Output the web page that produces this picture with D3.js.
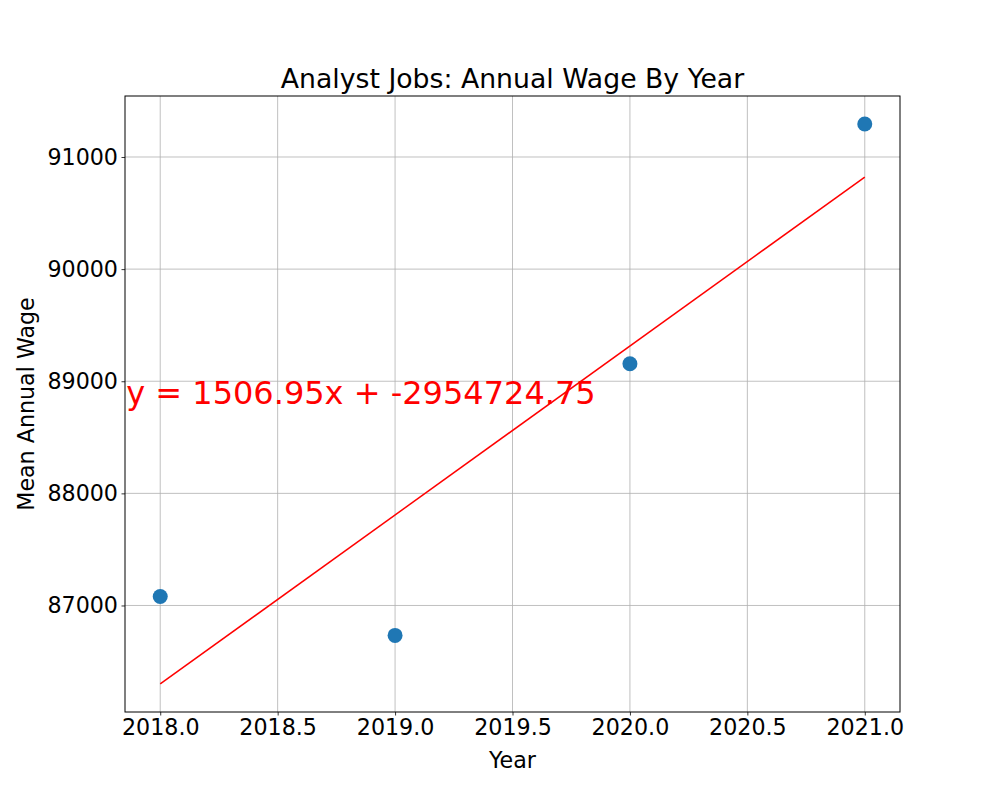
<!DOCTYPE html>
<html>
<head>
<meta charset="utf-8">
<script src="https://cdn.jsdelivr.net/npm/d3@7"></script>
<style>
  body { margin: 0; background: #fff; }
  text { font-family: "DejaVu Sans", sans-serif; }
</style>
</head>
<body>
<div id="chart"></div>
<script>
// data
const years = [2018, 2019, 2020, 2021]
const wages = [87080, 86733, 89156, 91294]
const slope = 1506.95
const intercept = -2954724.75
const xTicks = [2018.0, 2018.5, 2019.0, 2019.5, 2020.0, 2020.5, 2021.0]
const yTicks = [87000, 88000, 89000, 90000, 91000]

const totalWidth = 1000, totalHeight = 800
const margin = { top: 96, left: 125, bottom: 88, right: 100 }
const width = totalWidth - margin.left - margin.right
const height = totalHeight - margin.top - margin.bottom

const svg = d3.select("div#chart").append("svg").attr("width", totalWidth).attr("height", totalHeight)
const g = svg.append("g").attr("transform", `translate(${margin.left}, ${margin.top})`)

const x = d3.scaleLinear().domain([2017.85, 2021.15]).range([0, width])
const y = d3.scaleLinear().domain([86050, 91544]).range([height, 0])

// grid
g.append("g").selectAll("line").data(xTicks).join("line")
    .attr("x1", d => x(d)).attr("x2", d => x(d)).attr("y1", 0).attr("y2", height)
    .attr("stroke", "#b0b0b0").attr("stroke-width", 0.8)
g.append("g").selectAll("line").data(yTicks).join("line")
    .attr("y1", d => y(d)).attr("y2", d => y(d)).attr("x1", 0).attr("x2", width)
    .attr("stroke", "#b0b0b0").attr("stroke-width", 0.8)

// axes
const xAxis = d3.axisBottom(x).tickValues(xTicks).tickFormat(d3.format(".1f")).tickSize(3.5).tickPadding(3.5)
const yAxis = d3.axisLeft(y).tickValues(yTicks).tickFormat(d => d).tickSize(3.5).tickPadding(3.5)
const xg = g.append("g").attr("transform", `translate(0, ${height})`).call(xAxis)
const yg = g.append("g").call(yAxis)
for (const ax of [xg, yg]) {
    ax.select(".domain").remove()
    ax.selectAll("text").attr("font-size", 22.2).attr("fill", "#000").style("font-family", "DejaVu Sans")
    ax.selectAll("line").attr("stroke", "#000").attr("stroke-width", 0.8)
}
xg.selectAll("text").attr("dy", "0.71em")

// points
g.append("g").selectAll("circle").data(years).join("circle")
    .attr("cx", d => x(d))
    .attr("cy", (d, i) => y(wages[i]))
    .attr("r", 7.5)
    .attr("fill", "#1f77b4")

// regression line
const ends = [d3.min(years), d3.max(years)]
g.append("line")
    .attr("x1", x(ends[0])).attr("y1", y(slope * ends[0] + intercept))
    .attr("x2", x(ends[1])).attr("y2", y(slope * ends[1] + intercept))
    .attr("stroke", "red").attr("stroke-width", 1.5)

// frame
g.append("rect").attr("width", width).attr("height", height)
    .attr("fill", "none").attr("stroke", "#000").attr("stroke-width", 1)

// equation
g.append("text")
    .attr("x", x(2017.855)).attr("y", y(88800))
    .attr("fill", "red").attr("font-size", 32)
    .text(`y = ${slope}x + ${intercept}`)

// title and labels
svg.append("text").attr("x", margin.left + width / 2).attr("y", 88)
    .attr("text-anchor", "middle").attr("font-size", 26.7)
    .text("Analyst Jobs: Annual Wage By Year")
svg.append("text").attr("x", margin.left + width / 2).attr("y", 768)
    .attr("text-anchor", "middle").attr("font-size", 22.2)
    .text("Year")
svg.append("text")
    .attr("transform", `translate(34, ${margin.top + height / 2}) rotate(-90)`)
    .attr("text-anchor", "middle").attr("font-size", 22.2)
    .text("Mean Annual Wage")
</script>
</body>
</html>
